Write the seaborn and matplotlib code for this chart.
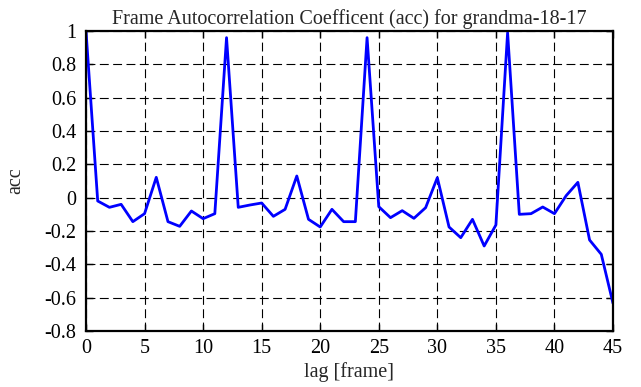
import numpy as np
import pandas as pd

import matplotlib
matplotlib.use("Agg")
import matplotlib.pyplot as plt
import seaborn as sns


# autocorrelation values, lag 0..45
lags = list(range(46))

acc = [
    1.0, -0.02, -0.058, -0.04, -0.144, -0.096, 0.122, -0.144, -0.172, -0.08,
    -0.126, -0.096, 0.96, -0.058, -0.044, -0.032, -0.112, -0.07, 0.13, -0.13,
    -0.176, -0.07, -0.144, -0.144, 0.96, -0.054, -0.12, -0.078, -0.124, -0.06,
    0.12, -0.176, -0.24, -0.13, -0.29, -0.164, 0.99, -0.1, -0.096, -0.056,
    -0.096, 0.012, 0.092, -0.254, -0.34, -0.634,
]

x_ticks = list(range(0, 46, 5))
y_ticks = [-0.8, -0.6, -0.4, -0.2, 0, 0.2, 0.4, 0.6, 0.8, 1]
y_labels = ["-0.8", "-0.6", "-0.4", "-0.2", "0", "0.2", "0.4", "0.6", "0.8", "1"]

df = pd.DataFrame({"lag": lags, "acc": acc})

sns.set_style("white")
plt.rcParams["font.family"] = ["Liberation Serif", "DejaVu Serif"]
fsize = 14.5

fig = plt.figure(figsize=(6.41, 3.87), dpi=100)
ax = fig.add_axes([86 / 641, 1 - 331 / 387, (613 - 86) / 641, (331 - 31) / 387])

sns.lineplot(
    data=df,
    x="lag",
    y="acc",
    color="#0000ff",
    linewidth=2,
    ax=ax,
)

ax.set_xlim(0, 45)
ax.set_ylim(-0.8, 1)
ax.set_xticks(x_ticks)
ax.set_yticks(y_ticks)
ax.set_yticklabels(y_labels)

ax.grid(True, color="black", linestyle=(0, (8, 4)), linewidth=0.8)

for spine in ax.spines.values():
    spine.set_visible(True)
    spine.set_color("black")
    spine.set_linewidth(1.6)

ax.tick_params(
    direction="in",
    length=5,
    width=1,
    top=True,
    right=True,
    bottom=True,
    left=True,
    colors="black",
    labelsize=fsize,
)
ax.tick_params(axis="y", pad=7)
ax.tick_params(axis="x", pad=6)

ax.set_title("Frame Autocorrelation Coefficent (acc) for grandma-18-17", fontsize=fsize, pad=5)
ax.set_xlabel("lag [frame]", fontsize=fsize, labelpad=3)
ax.set_ylabel("acc", fontsize=fsize, labelpad=14)

fig.savefig("out.png", dpi=100)
plt.close(fig)
